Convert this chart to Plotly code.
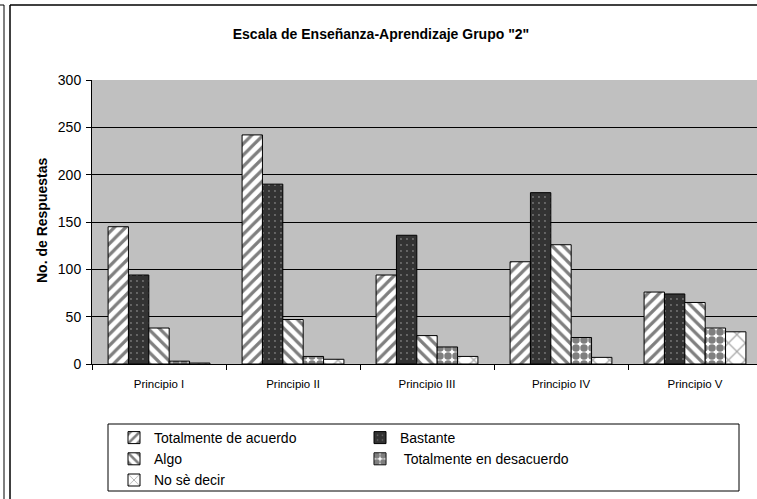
import plotly.graph_objects as go

categories = ["Principio I", "Principio II", "Principio III", "Principio IV", "Principio V"]
series_names = ["Totalmente de acuerdo", "Bastante", "Algo", " Totalmente en desacuerdo", "No sè decir"]
totalmente_de_acuerdo = [145, 242, 94, 108, 76]
bastante = [94, 190, 136, 181, 74]
algo = [38, 47, 30, 126, 65]
totalmente_en_desacuerdo = [3, 8, 18, 28, 38]
no_se_decir = [1, 5, 8, 7, 34]
y_ticks = [0, 50, 100, 150, 200, 250, 300]

values = [totalmente_de_acuerdo, bastante, algo, totalmente_en_desacuerdo, no_se_decir]
patterns = [
    dict(shape="/", bgcolor="white", fgcolor="black", size=8, solidity=0.4),
    dict(shape=".", bgcolor="#333333", fgcolor="#bbbbbb", size=6, solidity=0.08),
    dict(shape="\\", bgcolor="white", fgcolor="black", size=8, solidity=0.4),
    dict(shape=".", bgcolor="white", fgcolor="black", size=8, solidity=0.7),
    dict(shape="x", bgcolor="white", fgcolor="#555555", size=12, solidity=0.2),
]
base_colors = ["white", "#333333", "white", "white", "white"]

FONT = "Liberation Sans, Arial, sans-serif"
W, H = 757, 499
L, R, T, B = 92, 0, 80, 135
PW, PH = W - L - R, H - T - B

def px_x(x):
    return (x - L) / PW

def px_y(y):
    return (H - B - y) / PH

fig = go.Figure()
for name, vals, pat, col in zip(series_names, values, patterns, base_colors):
    fig.add_trace(go.Bar(
        name=name, x=categories, y=vals,
        marker=dict(color=col, pattern=pat, line=dict(color="black", width=1)),
    ))

shapes = [
    dict(type="line", xref="paper", yref="paper", x0=px_x(0), x1=px_x(4), y0=px_y(5), y1=px_y(5),
         line=dict(color="black", width=1)),
    dict(type="line", xref="paper", yref="paper", x0=px_x(4), x1=px_x(4), y0=px_y(5), y1=px_y(499),
         line=dict(color="black", width=1)),
    dict(type="line", xref="paper", yref="paper", x0=px_x(10), x1=px_x(10), y0=px_y(5), y1=px_y(499),
         line=dict(color="black", width=1.5)),
    dict(type="line", xref="paper", yref="paper", x0=px_x(10), x1=px_x(757), y0=px_y(5), y1=px_y(5),
         line=dict(color="black", width=1.5)),
    dict(type="rect", xref="paper", yref="paper", x0=px_x(108), x1=px_x(739), y0=px_y(424), y1=px_y(491),
         line=dict(color="black", width=1)),
]

annotations = [
    dict(text="<b>No. de Respuestas</b>", xref="paper", yref="paper", x=px_x(42), y=px_y(221),
         xanchor="center", yanchor="middle", textangle=-90, showarrow=False,
         font=dict(family=FONT, size=14, color="black")),
]

fig.update_layout(
    width=W, height=H,
    margin=dict(l=L, r=R, t=T, b=B, autoexpand=False),
    paper_bgcolor="white",
    plot_bgcolor="#c0c0c0",
    barmode="group", bargap=0.24, bargroupgap=0,
    font=dict(family=FONT, size=11, color="black"),
    title=dict(text='<b>Escala de Enseñanza-Aprendizaje Grupo "2"</b>',
               font=dict(family=FONT, size=14, color="black"),
               x=381 / W, xanchor="center", y=1 - 34 / H, yanchor="middle"),
    xaxis=dict(range=[-0.5, -0.5 + PW / 134.0], showgrid=False, showline=True, linecolor="black",
               linewidth=1, ticks="outside", tickson="boundaries", ticklen=5, tickcolor="black",
               ticklabelstandoff=9, automargin=False,
               tickfont=dict(family=FONT, size=11.5, color="black")),
    yaxis=dict(range=[0, 300], tickvals=y_ticks, showgrid=True, gridcolor="black", gridwidth=1,
               showline=True, linecolor="black", linewidth=1, ticks="outside", ticklen=5,
               tickcolor="black", zeroline=False, ticklabelstandoff=2, automargin=False,
               tickfont=dict(family=FONT, size=14, color="black")),
    legend=dict(orientation="h", x=px_x(114), xanchor="left", y=px_y(422), yanchor="top",
                font=dict(family=FONT, size=14, color="black"), bgcolor="rgba(0,0,0,0)",
                borderwidth=0, entrywidth=201, entrywidthmode="pixels", traceorder="normal",
                tracegroupgap=0),
    shapes=shapes,
    annotations=annotations,
    showlegend=True,
)

fig.write_html("out.html", config={"displayModeBar": False},
               post_script="document.body.style.margin='0';document.body.style.padding='0';")
